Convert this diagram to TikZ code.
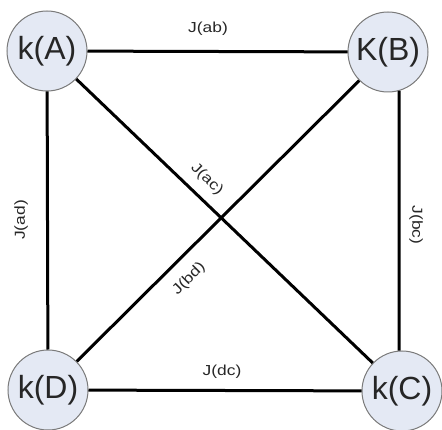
\documentclass[tikz,border=0pt]{standalone}
\usepackage{fontspec}
\setmainfont{Liberation Sans}
\newfontfamily\labelfont[FakeStretch=1.2]{Liberation Sans}
\definecolor{keyfill}{HTML}{E4E9F4}
\definecolor{keyborder}{HTML}{7A7A7A}
\tikzset{
    keynode/.style={shape=circle, draw=keyborder, fill=keyfill, line width=1pt,
        minimum size=80pt, inner sep=0pt, text=black!85,
        font=\fontsize{32}{36}\selectfont},
    linkline/.style={-, line width=3pt},
    linklabel/.style={inner sep=0pt, text=black!85, font=\labelfont\fontsize{14.5}{17}\selectfont}
}

\begin{document}
\begin{tikzpicture}[x=1pt, y=-1pt]
    \useasboundingbox (0,0) rectangle (442,430);

    \node[keynode] (ka) at (47,51) {k(A)};
    \node[keynode] (kb) at (388,52) {K(B)};
    \node[keynode] (kc) at (402,391) {k(C)};
    \node[keynode] (kd) at (48,390) {k(D)};

    \path [linkline](ka) edge (kb);
    \path [linkline](ka) edge (kd);
    \path [linkline](kb.-74) edge (kc.94);
    \path [linkline](kd) edge (kc);
    \path [linkline](ka) edge (kc);
    \path [linkline](kb) edge (kd);

    \node[linklabel] (jab) at (208,29) {J(ab)};
    \node[linklabel, rotate=90] (jad) at (21,220) {J(ad)};
    \node[linklabel, rotate=-90] (jbc) at (416,225) {J(bc)};
    \node[linklabel] (jdc) at (222,372) {J(dc)};
    \node[linklabel, rotate=-44] (jac) at (207,179) {J(ac)};
    \node[linklabel, rotate=45] (jbd) at (189,279) {J(bd)};

\end{tikzpicture}
\end{document}
